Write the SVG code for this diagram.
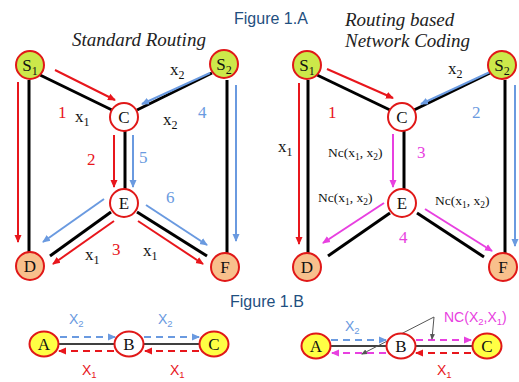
<svg xmlns="http://www.w3.org/2000/svg" width="519" height="382" viewBox="0 0 519 382">
<style>
.bg{fill:#fff}
.nd{stroke:#e01818;stroke-width:2}
.s{fill:#cce84a}
.w{fill:#fff}
.o{fill:#f8c08c}
.y{fill:#ffff44}
.lbl{font-family:"Liberation Serif",serif;font-size:17px;fill:#111;text-anchor:middle}
.sm{font-family:"Liberation Serif",serif;font-size:17px;fill:#111}
.nc{font-family:"Liberation Serif",serif;font-size:13.5px;fill:#111}
.ttl{font-family:"Liberation Serif",serif;font-style:italic;font-size:19px;fill:#222}
.fig{font-family:"Liberation Sans",sans-serif;font-size:16px;fill:#1f4f80}
.sans{font-family:"Liberation Sans",sans-serif;font-size:14px}
.blk{stroke:#000;stroke-width:3;fill:none}
.r{stroke:#e8161c;stroke-width:2;fill:none;marker-end:url(#ar)}
.b{stroke:#6a9ae0;stroke-width:2;fill:none;marker-end:url(#ab)}
.m{stroke:#e840e0;stroke-width:2;fill:none;marker-end:url(#am)}
.d{stroke-dasharray:7,5}
.thin{stroke:#000;stroke-width:1.5}
.g{stroke:#555;stroke-width:1;fill:none;marker-end:url(#ag)}
.tr{fill:#e8161c}
.tb{fill:#6a9ae0}
.tm{fill:#e840e0}
</style>
<defs>
<marker id="ar" markerWidth="8" markerHeight="8" refX="7" refY="4" orient="auto" markerUnits="userSpaceOnUse"><path d="M0,0.5 L8,4 L0,7.5 Z" fill="#e8161c"/></marker>
<marker id="ab" markerWidth="8" markerHeight="8" refX="7" refY="4" orient="auto" markerUnits="userSpaceOnUse"><path d="M0,0.5 L8,4 L0,7.5 Z" fill="#6a9ae0"/></marker>
<marker id="am" markerWidth="8" markerHeight="8" refX="7" refY="4" orient="auto" markerUnits="userSpaceOnUse"><path d="M0,0.5 L8,4 L0,7.5 Z" fill="#e840e0"/></marker>
<marker id="ag" markerWidth="6" markerHeight="6" refX="5" refY="3" orient="auto" markerUnits="userSpaceOnUse"><path d="M0,0.5 L6,3 L0,5.5 Z" fill="#555"/></marker>
</defs>
<rect class="bg" x="0" y="0" width="519" height="382"/>

<text class="fig" x="234" y="24">Figure 1.A</text>
<text class="ttl" x="72" y="46">Standard Routing</text>
<text class="ttl" x="345" y="26">Routing based</text>
<text class="ttl" x="345" y="47">Network Coding</text>
<text class="fig" x="230" y="307">Figure 1.B</text>

<g id="connectors">
<line class="blk" x1="40" y1="75" x2="112" y2="110"/>
<line class="blk" x1="137" y1="110" x2="212" y2="73"/>
<line class="blk" x1="125" y1="131" x2="125" y2="189"/>
<line class="blk" x1="29" y1="80" x2="29" y2="252"/>
<line class="blk" x1="227" y1="80" x2="227" y2="253"/>
<line class="blk" x1="111" y1="212" x2="50" y2="256"/>
<line class="blk" x1="137" y1="212" x2="207" y2="256"/>
<line class="r" x1="55" y1="70" x2="115" y2="100"/>
<line class="b" x1="210" y1="73" x2="142" y2="104"/>
<line class="r" x1="18" y1="82" x2="18" y2="242"/>
<line class="b" x1="236" y1="85" x2="236" y2="241"/>
<line class="r" x1="114" y1="135" x2="114" y2="187"/>
<line class="b" x1="133" y1="135" x2="133" y2="187"/>
<line class="b" x1="104" y1="199" x2="43" y2="242"/>
<line class="r" x1="114" y1="221" x2="53" y2="264"/>
<line class="b" x1="146" y1="205" x2="207" y2="245"/>
<line class="r" x1="138" y1="221" x2="203" y2="264"/>
<line class="blk" x1="317" y1="75" x2="390" y2="110"/>
<line class="blk" x1="414" y1="110" x2="490" y2="73"/>
<line class="blk" x1="404" y1="131" x2="404" y2="189"/>
<line class="blk" x1="308" y1="80" x2="308" y2="253"/>
<line class="blk" x1="505" y1="80" x2="505" y2="253"/>
<line class="blk" x1="390" y1="213" x2="328" y2="256"/>
<line class="blk" x1="417" y1="213" x2="484" y2="257"/>
<line class="r" x1="327" y1="69" x2="393" y2="98"/>
<line class="b" x1="490" y1="72" x2="421" y2="104"/>
<line class="r" x1="299" y1="83" x2="299" y2="244"/>
<line class="b" x1="515" y1="85" x2="515" y2="246"/>
<line class="m" x1="393" y1="134" x2="393" y2="187"/>
<line class="m" x1="384" y1="203" x2="323" y2="243"/>
<line class="m" x1="425" y1="209" x2="492" y2="251"/>
<line class="thin" x1="58" y1="344" x2="200" y2="344"/>
<line class="b d" x1="60" y1="337" x2="115" y2="337"/>
<line class="b d" x1="144" y1="337" x2="199" y2="337"/>
<line class="r d" x1="114" y1="351" x2="59" y2="351"/>
<line class="r d" x1="199" y1="351" x2="145" y2="351"/>
<line class="thin" x1="330" y1="346" x2="473" y2="346"/>
<line class="b d" x1="331" y1="340" x2="386" y2="340"/>
<line class="m d" x1="416" y1="340" x2="471" y2="340"/>
<line class="m d" x1="386" y1="353" x2="332" y2="353"/>
<line class="r d" x1="471" y1="353" x2="416" y2="353"/>
<line class="g" x1="434" y1="317" x2="362" y2="354"/>
<line class="g" x1="434" y1="317" x2="432" y2="339"/>
</g>

<text class="sm tr" x="58" y="118">1</text>
<text class="sm" x="75" y="122">x<tspan font-size="12" dy="4">1</tspan></text>
<text class="sm" x="170" y="75">x<tspan font-size="12" dy="4">2</tspan></text>
<text class="sm" x="163" y="125">x<tspan font-size="12" dy="4">2</tspan></text>
<text class="sm tb" x="198" y="118">4</text>
<text class="sm tr" x="87" y="165">2</text>
<text class="sm tb" x="139" y="163">5</text>
<text class="sm tb" x="166" y="203">6</text>
<text class="sm tr" x="112" y="255">3</text>
<text class="sm" x="85" y="260">x<tspan font-size="12" dy="4">1</tspan></text>
<text class="sm" x="143" y="256">x<tspan font-size="12" dy="4">1</tspan></text>
<text class="sm tr" x="328" y="118">1</text>
<text class="sm" x="448" y="74">x<tspan font-size="12" dy="4">2</tspan></text>
<text class="sm tb" x="472" y="118">2</text>
<text class="sm" x="278" y="152">x<tspan font-size="12" dy="4">1</tspan></text>
<text class="nc" x="328" y="157">Nc(x<tspan font-size="9.5" dy="3">1</tspan><tspan dy="-3">, x</tspan><tspan font-size="9.5" dy="3">2</tspan><tspan dy="-3">)</tspan></text>
<text class="sm tm" x="417" y="158">3</text>
<text class="nc" x="318" y="202">Nc(x<tspan font-size="9.5" dy="3">1</tspan><tspan dy="-3">, x</tspan><tspan font-size="9.5" dy="3">2</tspan><tspan dy="-3">)</tspan></text>
<text class="nc" x="435" y="205">Nc(x<tspan font-size="9.5" dy="3">1</tspan><tspan dy="-3">, x</tspan><tspan font-size="9.5" dy="3">2</tspan><tspan dy="-3">)</tspan></text>
<text class="sm tm" x="399" y="243">4</text>
<text class="sans tb" x="69" y="324">X<tspan font-size="9.5" dy="3">2</tspan></text>
<text class="sans tb" x="158" y="324">X<tspan font-size="9.5" dy="3">2</tspan></text>
<text class="sans tr" x="82" y="375">X<tspan font-size="9.5" dy="3">1</tspan></text>
<text class="sans tr" x="170" y="375">X<tspan font-size="9.5" dy="3">1</tspan></text>
<text class="sans tb" x="345" y="331">X<tspan font-size="9.5" dy="3">2</tspan></text>
<text class="sans tm" x="444" y="322">NC(X<tspan font-size="9.5" dy="3">2</tspan><tspan dy="-3">,X</tspan><tspan font-size="9.5" dy="3">1</tspan><tspan dy="-3">)</tspan></text>
<text class="sans tr" x="437" y="375">X<tspan font-size="9.5" dy="3">1</tspan></text>

<g id="L-S1"><circle class="nd s" cx="30" cy="65" r="14"/><text class="lbl" x="30" y="71">S<tspan font-size="12" dy="4">1</tspan></text></g>
<g id="L-S2"><circle class="nd s" cx="224" cy="64" r="14"/><text class="lbl" x="224" y="70">S<tspan font-size="12" dy="4">2</tspan></text></g>
<g id="L-C"><circle class="nd w" cx="124" cy="117" r="14"/><text class="lbl" x="124" y="123">C</text></g>
<g id="L-E"><circle class="nd w" cx="124" cy="203" r="14"/><text class="lbl" x="124" y="209">E</text></g>
<g id="L-D"><circle class="nd o" cx="30" cy="266" r="14"/><text class="lbl" x="30" y="272">D</text></g>
<g id="L-F"><circle class="nd o" cx="225" cy="267" r="14"/><text class="lbl" x="225" y="273">F</text></g>
<g id="R-S1"><circle class="nd s" cx="307" cy="65" r="14"/><text class="lbl" x="307" y="71">S<tspan font-size="12" dy="4">1</tspan></text></g>
<g id="R-S2"><circle class="nd s" cx="502" cy="65" r="14"/><text class="lbl" x="502" y="71">S<tspan font-size="12" dy="4">2</tspan></text></g>
<g id="R-C"><circle class="nd w" cx="402" cy="117" r="14"/><text class="lbl" x="402" y="123">C</text></g>
<g id="R-E"><circle class="nd w" cx="402" cy="203" r="14"/><text class="lbl" x="402" y="209">E</text></g>
<g id="R-D"><circle class="nd o" cx="307" cy="267" r="14"/><text class="lbl" x="307" y="273">D</text></g>
<g id="R-F"><circle class="nd o" cx="503" cy="267" r="14"/><text class="lbl" x="503" y="273">F</text></g>
<g id="BL-A"><ellipse class="nd y" cx="44" cy="344" rx="14.5" ry="12.5"/><text class="lbl" x="44" y="350">A</text></g>
<g id="BL-B"><ellipse class="nd w" cx="129" cy="344" rx="14.5" ry="12.5"/><text class="lbl" x="129" y="350">B</text></g>
<g id="BL-C"><ellipse class="nd y" cx="214" cy="344" rx="14.5" ry="12.5"/><text class="lbl" x="214" y="350">C</text></g>
<g id="BR-A"><ellipse class="nd y" cx="316" cy="346" rx="14.5" ry="12.5"/><text class="lbl" x="316" y="352">A</text></g>
<g id="BR-B"><ellipse class="nd w" cx="401" cy="346" rx="14.5" ry="12.5"/><text class="lbl" x="401" y="352">B</text></g>
<g id="BR-C"><ellipse class="nd y" cx="487" cy="346" rx="14.5" ry="12.5"/><text class="lbl" x="487" y="352">C</text></g>
</svg>
